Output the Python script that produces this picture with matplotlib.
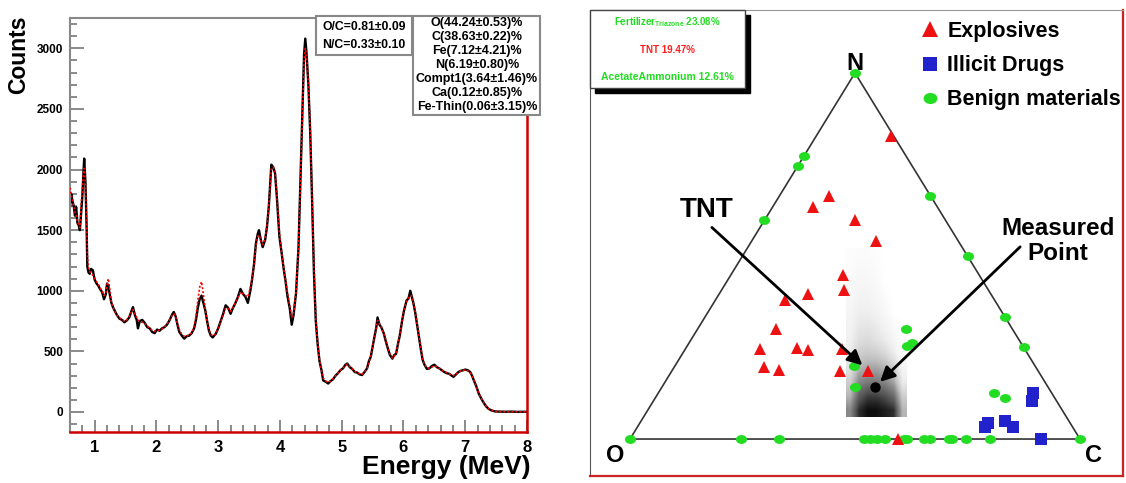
import matplotlib.pyplot as plt
import numpy as np
from matplotlib.patches import Rectangle, Polygon
from matplotlib.ticker import MultipleLocator
from matplotlib.markers import MarkerStyle
from matplotlib.transforms import Affine2D

plt.rcParams['font.family'] = ['Liberation Sans', 'DejaVu Sans']
plt.rcParams['font.weight'] = 'bold'

# ---- left panel: gamma spectrum (measured + fit) ----
energy = [0.60, 0.62, 0.64, 0.66, 0.68, 0.70, 0.72, 0.74, 0.76, 0.78, 0.80, 0.82, 0.83, 0.85, 0.87,
          0.88, 0.90, 0.92, 0.94, 0.97, 1.00, 1.03, 1.06, 1.09, 1.12, 1.15, 1.18, 1.20, 1.22, 1.24,
          1.27, 1.30, 1.33, 1.36, 1.40, 1.44, 1.48, 1.52, 1.56, 1.60, 1.62, 1.65, 1.68, 1.70, 1.73,
          1.77, 1.81, 1.85, 1.89, 1.93, 1.97, 2.01, 2.05, 2.09, 2.13, 2.17, 2.21, 2.25, 2.28, 2.31,
          2.34, 2.37, 2.41, 2.45, 2.49, 2.53, 2.57, 2.61, 2.64, 2.67, 2.70, 2.73, 2.76, 2.79, 2.82,
          2.85, 2.88, 2.91, 2.96, 3.00, 3.04, 3.08, 3.12, 3.16, 3.20, 3.24, 3.28, 3.32, 3.36, 3.40,
          3.44, 3.48, 3.52, 3.55, 3.58, 3.61, 3.64, 3.66, 3.69, 3.72, 3.76, 3.79, 3.82, 3.86, 3.89,
          3.92, 3.95, 3.99, 4.03, 4.06, 4.09, 4.12, 4.16, 4.19, 4.22, 4.26, 4.30, 4.33, 4.36, 4.39,
          4.41, 4.43, 4.46, 4.49, 4.52, 4.55, 4.58, 4.61, 4.64, 4.67, 4.70, 4.74, 4.78, 4.82, 4.86,
          4.90, 4.94, 4.98, 5.02, 5.06, 5.09, 5.13, 5.17, 5.21, 5.25, 5.29, 5.33, 5.37, 5.41, 5.44,
          5.47, 5.50, 5.53, 5.56, 5.58, 5.61, 5.64, 5.68, 5.71, 5.74, 5.78, 5.82, 5.85, 5.88, 5.91,
          5.94, 5.98, 6.01, 6.05, 6.08, 6.11, 6.13, 6.16, 6.19, 6.22, 6.25, 6.28, 6.31, 6.34, 6.38,
          6.42, 6.46, 6.50, 6.54, 6.58, 6.62, 6.66, 6.70, 6.74, 6.78, 6.81, 6.85, 6.89, 6.93, 6.97,
          7.00, 7.04, 7.08, 7.11, 7.14, 7.18, 7.22, 7.26, 7.30, 7.34, 7.38, 7.43, 7.48, 7.55, 7.65,
          7.75, 7.85, 7.95, 8.00]
counts = [1690, 1800, 1740, 1700, 1620, 1690, 1560, 1540, 1500, 1640, 1780, 2000, 2090, 1900, 1500,
          1200, 1150, 1140, 1180, 1170, 1090, 1060, 1040, 1010, 990, 930, 970, 1060, 1040, 980,
          900, 860, 830, 800, 770, 760, 740, 755, 780, 840, 865, 800, 760, 690, 750,
          760, 735, 700, 690, 660, 650, 680, 670, 690, 700, 720, 755, 800, 825, 790,
          720, 660, 630, 605, 625, 630, 650, 690, 760, 860, 930, 960, 900, 840, 750,
          670, 630, 615, 645, 690, 750, 810, 880, 860, 810, 860, 900, 950, 1015, 975,
          950, 900, 1000, 1100, 1220, 1390, 1470, 1500, 1420, 1360, 1420, 1530, 1700, 2040, 2020,
          1970, 1770, 1450, 1300, 1180, 1080, 960, 850, 720, 800, 980, 1360, 1900, 2450, 2950,
          3080, 2960, 2700, 2300, 1750, 1150, 750, 560, 420, 350, 260, 250, 235, 255, 270,
          300, 320, 345, 360, 390, 400, 370, 355, 330, 325, 310, 305, 330, 360, 420,
          455, 540, 620, 700, 780, 720, 700, 650, 590, 535, 470, 440, 470, 480, 560,
          630, 760, 840, 920, 935, 1000, 960, 900, 820, 720, 620, 520, 430, 390, 355,
          360, 380, 390, 370, 360, 345, 330, 320, 315, 300, 290, 310, 330, 340, 345,
          350, 345, 330, 300, 260, 210, 150, 110, 75, 45, 25, 12, 5, 3, 2,
          3, 1, 2, 1]
fit = [1850, 1790, 1750, 1700, 1650, 1620, 1580, 1545, 1520, 1700, 1850, 1980, 2010, 1880, 1560,
       1300, 1190, 1160, 1140, 1130, 1100, 1075, 1050, 1020, 1000, 960, 980, 1050, 1100, 1030,
       910, 860, 825, 800, 780, 760, 750, 760, 790, 830, 845, 810, 780, 760, 745,
       740, 730, 710, 690, 675, 665, 670, 675, 685, 700, 725, 760, 795, 810, 790,
       730, 680, 640, 625, 625, 640, 650, 700, 790, 920, 1030, 1075, 970, 850, 750,
       680, 640, 630, 640, 690, 745, 800, 860, 855, 830, 860, 900, 945, 990, 975,
       960, 950, 1020, 1110, 1210, 1370, 1450, 1460, 1410, 1380, 1430, 1540, 1700, 2010, 2020,
       1980, 1800, 1480, 1300, 1190, 1090, 990, 870, 780, 820, 990, 1360, 1880, 2430, 2900,
       3000, 2950, 2720, 2320, 1760, 1180, 770, 570, 430, 350, 280, 255, 245, 255, 275,
       300, 320, 345, 360, 385, 395, 375, 355, 335, 325, 315, 310, 330, 360, 410,
       460, 545, 615, 700, 755, 730, 700, 650, 600, 540, 480, 445, 460, 490, 560,
       630, 760, 850, 910, 940, 960, 960, 900, 830, 730, 630, 530, 440, 390, 365,
       360, 370, 380, 375, 360, 345, 335, 325, 315, 305, 300, 310, 330, 340, 345,
       348, 340, 325, 300, 265, 210, 155, 110, 78, 48, 27, 14, 6, 3, 2,
       2, 1, 1, 1]

oc_lines = ['O/C=0.81\u00b10.09', 'N/C=0.33\u00b10.10']
fit_lines = ['O(44.24\u00b10.53)%', 'C(38.63\u00b10.22)%', 'Fe(7.12\u00b14.21)%',
             'N(6.19\u00b10.80)%', 'Compt1(3.64\u00b11.46)%', 'Ca(0.12\u00b10.85)%',
             'Fe-Thin(0.06\u00b13.15)%']

# ---- right panel: ternary O-C-N diagram, points as (C fraction, N fraction) ----
expl_c = [0.167, 0.110, 0.090, 0.201, 0.275, 0.250, 0.273, 0.198, 0.154, 0.175,
          0.165, 0.248, 0.274, 0.348, 0.199, 0.237, 0.374, 0.437, 0.596]
expl_n = [0.827, 0.665, 0.633, 0.597, 0.542, 0.447, 0.406, 0.396, 0.380, 0.301,
          0.246, 0.248, 0.242, 0.245, 0.198, 0.189, 0.186, 0.186, 0.0]
drug_c = [0.833, 0.840, 0.774, 0.772, 0.808, 0.834, 0.913]
drug_n = [0.125, 0.105, 0.043, 0.034, 0.049, 0.034, 0.0]
benign_c = [0.0, 0.0, 0.0, 0.335, 0.501, 0.666, 0.749, 0.0, 0.0, 1.0,
            0.246, 0.331, 0.519, 0.534, 0.550, 0.567, 0.609, 0.615, 0.654, 0.666,
            0.708, 0.716, 0.747, 0.800,
            0.463, 0.496, 0.488, 0.398, 0.428, 0.745, 0.777]
benign_n = [0.774, 0.747, 0.597, 0.665, 0.499, 0.334, 0.251, 1.0, 0.0, 0.0,
            0.0, 0.0, 0.0, 0.0, 0.0, 0.0, 0.0, 0.0, 0.0, 0.0,
            0.0, 0.0, 0.0, 0.0,
            0.301, 0.262, 0.255, 0.200, 0.143, 0.127, 0.111]
measured_c, measured_n = 0.473, 0.143

# likelihood map behind the measured point (rows bottom->top)
density = [
    [0.55, 0.85, 0.95, 0.95, 0.90, 0.85, 0.40],
    [0.40, 0.70, 0.80, 0.80, 0.75, 0.65, 0.30],
    [0.30, 0.55, 0.60, 0.60, 0.55, 0.45, 0.15],
    [0.20, 0.40, 0.45, 0.45, 0.40, 0.30, 0.08],
    [0.15, 0.30, 0.32, 0.30, 0.25, 0.15, 0.03],
    [0.12, 0.22, 0.24, 0.20, 0.15, 0.08, 0.00],
    [0.10, 0.17, 0.18, 0.15, 0.10, 0.04, 0.00],
    [0.08, 0.13, 0.13, 0.10, 0.06, 0.00, 0.00],
    [0.06, 0.10, 0.10, 0.07, 0.03, 0.00, 0.00],
    [0.05, 0.07, 0.07, 0.05, 0.00, 0.00, 0.00],
    [0.03, 0.05, 0.05, 0.03, 0.00, 0.00, 0.00],
    [0.02, 0.03, 0.03, 0.02, 0.00, 0.00, 0.00],
]
density_extent = [0.48, 0.615, 0.06, 0.52]


def tern(c, n):
    c = np.asarray(c, dtype=float)
    n = np.asarray(n, dtype=float)
    return c + n / 2, n


W, H = 1126, 483
fig = plt.figure(figsize=(W / 100, H / 100), dpi=100)

# ================= left panel =================
ax1 = fig.add_axes([70 / W, 51 / H, 457 / W, 414 / H])
ax1.plot(energy, counts, color='black', lw=1.7, zorder=2)
ax1.plot(energy, fit, color='red', lw=1.2, ls=(0, (1.2, 1.2)), zorder=3)
ax1.set_xlim(0.6, 8)
ax1.set_ylim(-165, 3250)
ax1.xaxis.set_major_locator(MultipleLocator(1))
ax1.xaxis.set_minor_locator(MultipleLocator(0.2))
ax1.yaxis.set_major_locator(MultipleLocator(500))
ax1.yaxis.set_minor_locator(MultipleLocator(100))
ax1.tick_params(axis='y', which='both', direction='in', color='#777777', width=1.2, labelsize=8.5, pad=5)
ax1.tick_params(axis='y', which='major', length=10)
ax1.tick_params(axis='y', which='minor', length=5)
ax1.tick_params(axis='x', which='both', direction='in', color='#777777', width=1.2, labelsize=12, pad=6)
ax1.tick_params(axis='x', which='major', length=9)
ax1.tick_params(axis='x', which='minor', length=5)
for s in ['left', 'top']:
    ax1.spines[s].set_color('#888888')
    ax1.spines[s].set_linewidth(1.5)
for s in ['right', 'bottom']:
    ax1.spines[s].set_color('#cc0000')
    ax1.spines[s].set_linewidth(1.8)
fig.text(19 / W, 1 - 16 / H, 'Counts', rotation=90, ha='center', va='top', fontsize=16.5)
fig.text(531 / W, 1 - 467 / H, 'Energy (MeV)', ha='right', va='center', fontsize=19)

# stat boxes
box1 = Rectangle((316 / W, 1 - 55 / H), 96 / W, 39 / H, transform=fig.transFigure,
                 facecolor='white', edgecolor='#888888', lw=1.5, zorder=5)
box2 = Rectangle((413 / W, 1 - 115 / H), 127 / W, 99 / H, transform=fig.transFigure,
                 facecolor='white', edgecolor='#888888', lw=1.5, zorder=5)
fig.add_artist(box1)
fig.add_artist(box2)
for i, s in enumerate(oc_lines):
    fig.text(364 / W, 1 - (27 + 18 * i) / H, s, ha='center', va='center', fontsize=8.8, zorder=6)
for i, s in enumerate(fit_lines):
    fig.text(477 / W, 1 - (23 + 14 * i) / H, s, ha='center', va='center', fontsize=9, zorder=6)

# ================= right panel =================
ax2 = fig.add_axes([590 / W, 7 / H, 533 / W, 466 / H])
ax2.set_xlim(-0.0889, 1.0956)
ax2.set_ylim(-0.101, 1.172)
ax2.set_xticks([])
ax2.set_yticks([])
ax2.spines['left'].set_color('#555555')
ax2.spines['top'].set_color('#999999')
for s in ['right', 'bottom']:
    ax2.spines[s].set_color('#cc2222')
    ax2.spines[s].set_linewidth(1.6)

ax2.add_patch(Polygon([(0, 0), (1, 0), (0.5, 1)], closed=True, fill=False,
                      edgecolor='#333333', lw=1.2, zorder=2))
ax2.imshow(np.array(density), cmap='Greys', vmin=0, vmax=1, origin='lower',
           extent=density_extent, aspect='auto', interpolation='bilinear', zorder=1)

ellipse = MarkerStyle('o', transform=Affine2D().scale(1.0, 0.8))
bx, by = tern(benign_c, benign_n)
ax2.plot(bx, by, ls='none', marker=ellipse, ms=8, color='#22dd22', mew=0, zorder=3,
         label='Benign materials')
dx, dy = tern(drug_c, drug_n)
ax2.plot(dx, dy, ls='none', marker='s', ms=8, color='#2222cc', mew=0, zorder=3,
         label='Illicit Drugs')
ex, ey = tern(expl_c, expl_n)
ax2.plot(ex, ey, ls='none', marker='^', ms=9, color='#ee1111', mew=0, zorder=4,
         label='Explosives')
mx, my = tern(measured_c, measured_n)
ax2.plot(mx, my, ls='none', marker='o', ms=6.5, color='black', zorder=5)

handles, labels = ax2.get_legend_handles_labels()
ax2.legend(handles[::-1], labels[::-1], loc='upper left', bbox_to_anchor=(0.622, 0.977),
           frameon=False, fontsize=15.5, markerscale=1.25, handlelength=0.75,
           handletextpad=0.45, labelspacing=0.62, borderpad=0, borderaxespad=0)

ax2.text(0.5, 1.025, 'N', ha='center', va='center', fontsize=17)
ax2.text(-0.033, -0.044, 'O', ha='center', va='center', fontsize=17)
ax2.text(1.031, -0.044, 'C', ha='center', va='center', fontsize=17)

tnt_x, tnt_y = tern(expl_c[17], expl_n[17])
ax2.text(0.171, 0.626, 'TNT', ha='center', va='center', fontsize=20)
ax2.annotate('', xy=(tnt_x, tnt_y), xytext=(0.182, 0.578),
             arrowprops=dict(arrowstyle='-|>', color='black', lw=2, mutation_scale=22,
                             shrinkA=0, shrinkB=6), zorder=6)
ax2.text(0.951, 0.541, 'Measured\nPoint', ha='center', va='center', fontsize=17.5, linespacing=1.1)
ax2.annotate('', xy=(mx, my), xytext=(0.867, 0.525),
             arrowprops=dict(arrowstyle='-|>', color='black', lw=2, mutation_scale=22,
                             shrinkA=0, shrinkB=5), zorder=6)

# result box with shadow
ax2.add_patch(Rectangle((0.0094, 0.822), 0.291, 0.167, transform=ax2.transAxes,
                        facecolor='black', edgecolor='black', zorder=6, clip_on=False))
ax2.add_patch(Rectangle((0.0, 0.833), 0.291, 0.167, transform=ax2.transAxes,
                        facecolor='white', edgecolor='#444444', lw=1, zorder=7, clip_on=False))
ax2.text(0.1445, 0.974, 'Fertilizer$_{\\mathregular{Triazone}}$ 23.08%', transform=ax2.transAxes,
         ha='center', va='center', fontsize=7, color='#22dd22', zorder=8)
ax2.text(0.1445, 0.914, 'TNT 19.47%', transform=ax2.transAxes,
         ha='center', va='center', fontsize=7, color='#ff2020', zorder=8)
ax2.text(0.1445, 0.856, 'AcetateAmmonium 12.61%', transform=ax2.transAxes,
         ha='center', va='center', fontsize=7.5, color='#22dd22', zorder=8)

fig.savefig('out.png', dpi=100)
